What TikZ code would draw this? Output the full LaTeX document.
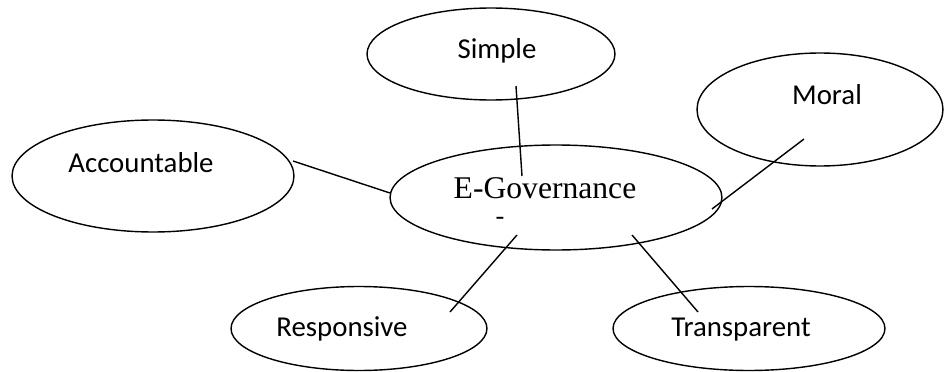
\documentclass[tikz,border=0pt]{standalone}
\usepackage{fontspec}
\setmainfont{Carlito}
\newfontfamily\timesfont{Liberation Serif}
\usetikzlibrary{shapes.geometric}

\begin{document}
\begin{tikzpicture}[x=0.02cm, y=-0.02cm, font=\fontsize{16.4}{20}\selectfont, line width=0.8pt,
	bubble/.style={draw, ellipse, inner sep=0pt, outer sep=0pt},
	word/.style={anchor=base, inner sep=0pt}]
	\useasboundingbox (0, 0) rectangle (944, 372);

	% Các hình elip
	\node[bubble, minimum width=6.64cm, minimum height=2.1cm] (egov) at (556, 197.5) {};
	\node[bubble, minimum width=4.96cm, minimum height=1.84cm] (simple) at (491, 54) {};
	\node[bubble, minimum width=5.64cm, minimum height=2.24cm] (accountable) at (153, 176) {};
	\node[bubble, minimum width=4.92cm, minimum height=2.26cm] (moral) at (820, 109.5) {};
	\node[bubble, minimum width=5.12cm, minimum height=1.68cm] (responsive) at (359, 328.5) {};
	\node[bubble, minimum width=5.44cm, minimum height=1.68cm] (transparent) at (749, 328.5) {};

	% Chữ
	\node[word, font=\timesfont\fontsize{18}{22}\selectfont] (egovtext) at (545, 198) {E-Governance};
	\node[word, font=\timesfont\fontsize{15}{18}\selectfont] (egovdash) at (500, 224) {-};
	\node[word] (simpletext) at (497, 58) {Simple};
	\node[word] (accountabletext) at (141, 172) {Accountable};
	\node[word] (moraltext) at (827, 104) {Moral};
	\node[word] (responsivetext) at (342, 336) {Responsive};
	\node[word] (transparenttext) at (741, 336) {Transparent};

	% Đầu các đường nối
	\coordinate (simple-a) at (516, 86);
	\coordinate (simple-b) at (522, 176);
	\coordinate (accountable-a) at (293, 161);
	\coordinate (accountable-b) at (390, 193);
	\coordinate (moral-a) at (804, 139);
	\coordinate (moral-b) at (712, 209);
	\coordinate (responsive-a) at (450, 312);
	\coordinate (responsive-b) at (517, 235);
	\coordinate (transparent-a) at (698, 312);
	\coordinate (transparent-b) at (632, 235);

	% Đường nối
	\draw (simple-a) -- (simple-b);
	\draw (accountable-a) -- (accountable-b);
	\draw (moral-a) -- (moral-b);
	\draw (responsive-a) -- (responsive-b);
	\draw (transparent-a) -- (transparent-b);

\end{tikzpicture}
\end{document}
